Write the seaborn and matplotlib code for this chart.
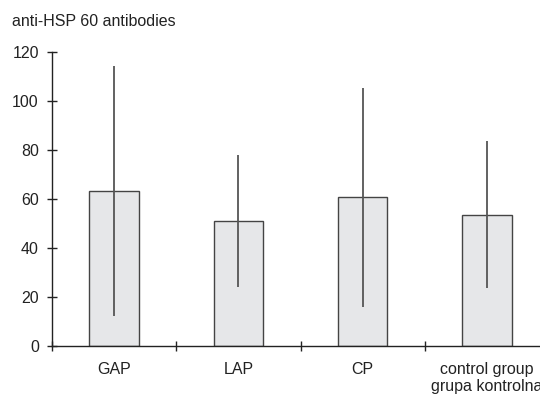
import matplotlib
matplotlib.use('Agg')
import matplotlib.pyplot as plt
import seaborn as sns
import numpy as np

groups = ['GAP', 'LAP', 'CP', 'control group\ngrupa kontrolna']
means = [63.0, 51.0, 60.5, 53.5]
sds = [51.0, 27.0, 44.7, 30.0]

sns.set_style('ticks')
plt.rcParams['font.family'] = ['Liberation Sans', 'DejaVu Sans']

fig = plt.figure(figsize=(5.4, 3.95), dpi=100)
ax = fig.add_axes([52 / 540, 49.3 / 395, 497 / 540, 294 / 395])

sns.barplot(x=groups, y=means, ax=ax, color='#e6e7e9', edgecolor='#444444',
            linewidth=1.0, width=0.4, errorbar=None, saturation=1)
ax.errorbar(x=np.arange(len(groups)), y=means, yerr=sds, fmt='none',
            ecolor='#555555', elinewidth=1.3, capsize=0)

ax.set_xlim(-0.5, 3.5)
ax.set_ylim(0, 120)
ax.set_yticks(range(0, 121, 20))
ax.set_xticks(np.arange(-0.5, 3.0, 1.0), minor=True)
sns.despine(ax=ax)
for s in ['left', 'bottom']:
    ax.spines[s].set_linewidth(1.0)
    ax.spines[s].set_color('#222222')

ax.tick_params(axis='y', direction='inout', length=7, width=1.0,
               colors='#222222', labelsize=11.5, pad=6)
ax.tick_params(axis='x', which='major', length=0, labelsize=11.5, pad=11.5,
               labelcolor='#222222')
ax.tick_params(axis='x', which='minor', direction='inout', length=7,
               width=1.0, color='#222222')
ax.set_xlabel('')
ax.set_ylabel('')

fig.text(12 / 540, 1 - 22 / 395, 'anti-HSP 60 antibodies', fontsize=11.5,
         color='#222222', va='center', ha='left')

fig.savefig('out.png', dpi=100)
